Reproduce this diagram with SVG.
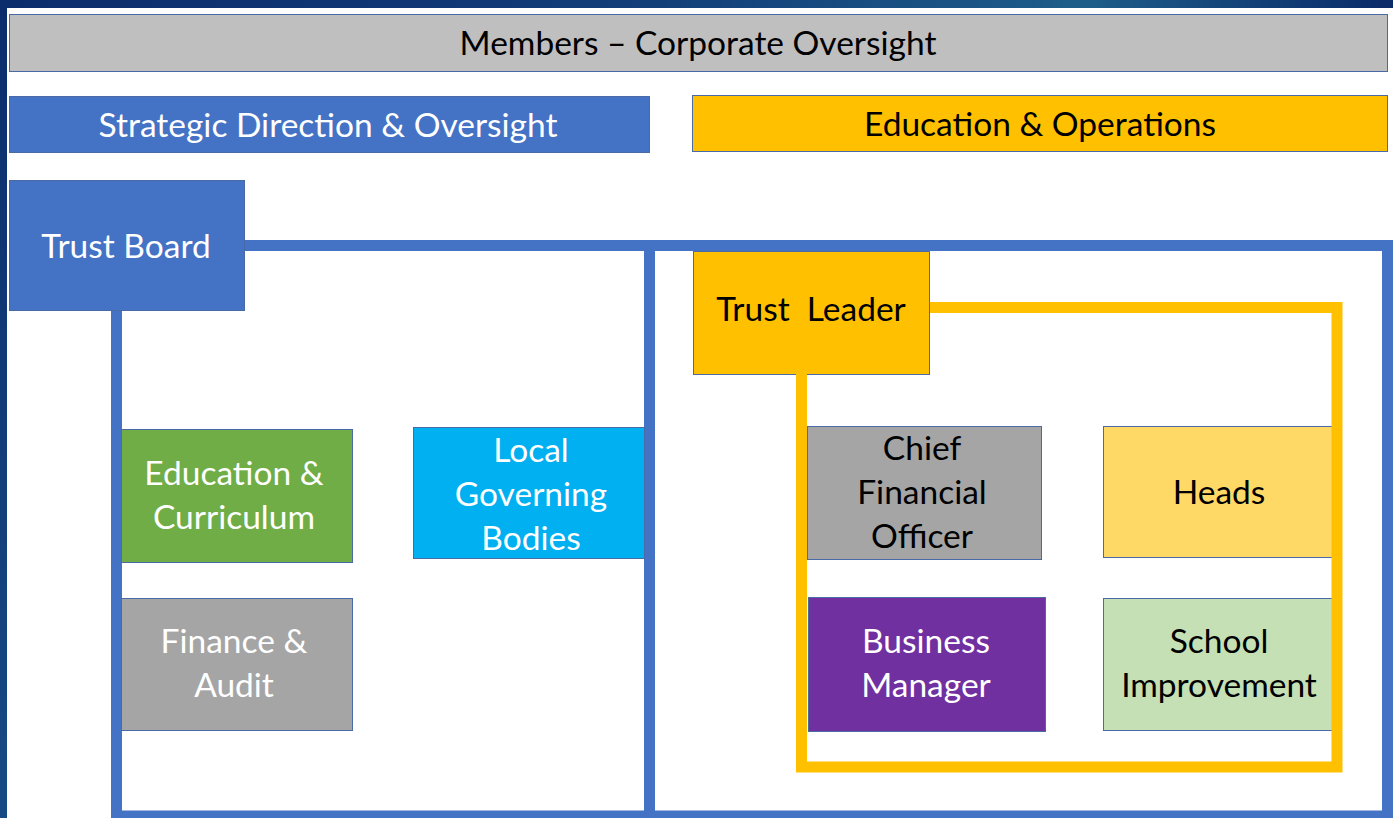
<svg xmlns="http://www.w3.org/2000/svg" width="1393" height="818" viewBox="0 0 1393 818">
<defs>
<linearGradient id="topg" x1="0" y1="0" x2="1" y2="0">
<stop offset="0" stop-color="#0c2d6b"/>
<stop offset="0.45" stop-color="#123d78"/>
<stop offset="0.78" stop-color="#1e5d8a"/>
<stop offset="1" stop-color="#0a2a68"/>
</linearGradient>
<linearGradient id="leftg" x1="0" y1="0" x2="0" y2="1">
<stop offset="0" stop-color="#0b2d6b"/>
<stop offset="1" stop-color="#174a84"/>
</linearGradient>
<style>
.box{stroke:#4a6aa6;stroke-width:1}
.t{font-family:"Lato","Open Sans","DejaVu Sans",sans-serif;font-size:33.5px;text-anchor:middle}
.w{fill:#ffffff}
.k{fill:#000000}
.blue{fill:none;stroke:#4472c4;stroke-width:11;stroke-linejoin:miter;stroke-linecap:butt}
.yel{fill:none;stroke:#ffc000;stroke-width:11;stroke-linejoin:miter;stroke-linecap:butt}
</style>
</defs>
<rect x="0" y="0" width="1393" height="818" fill="url(#leftg)"/>
<rect x="0" y="0" width="1393" height="8" fill="url(#topg)"/>
<rect x="7" y="8" width="1386" height="810" fill="#ffffff"/>

<g id="connectors">
<path class="blue" d="M245 245.5 H1387.5 V816 H116.5 V311"/>
<path class="blue" d="M649.5 245.5 V816"/>
</g>

<g id="members">
<rect class="box" x="9.5" y="14.5" width="1378" height="57" fill="#bfbfbf"/>
<text class="t k" x="698" y="55">Members – Corporate Oversight</text>
</g>
<g id="strategic">
<rect class="box" x="9.5" y="96.5" width="640" height="56" fill="#4472c4"/>
<text class="t w" x="328" y="137">Strategic Direction &amp; Oversight</text>
</g>
<g id="eduops">
<rect class="box" x="692.5" y="95.5" width="695" height="56" fill="#ffc000"/>
<text class="t k" x="1040" y="136">Education &amp; Operations</text>
</g>
<g id="trustboard">
<rect class="box" x="9.5" y="180.5" width="235" height="130" fill="#4472c4"/>
<text class="t w" x="126" y="258">Trust Board</text>
</g>
<g id="educurr">
<rect class="box" x="121.5" y="429.5" width="231" height="133" fill="#70ad47"/>
<text class="t w" x="234" y="485">Education &amp;</text>
<text class="t w" x="234" y="529">Curriculum</text>
</g>
<g id="finaudit">
<rect class="box" x="121.5" y="598.5" width="231" height="132" fill="#a5a5a5"/>
<text class="t w" x="234" y="653">Finance &amp;</text>
<text class="t w" x="234" y="697">Audit</text>
</g>
<g id="lgb">
<rect class="box" x="413.5" y="427.5" width="231" height="131" fill="#00b0f0"/>
<text class="t w" x="531" y="462">Local</text>
<text class="t w" x="531" y="506">Governing</text>
<text class="t w" x="531" y="550">Bodies</text>
</g>
<g id="trustleader">
<rect class="box" x="693.5" y="251.5" width="236" height="123" fill="#ffc000"/>
<text class="t k" x="811" y="321" xml:space="preserve">Trust  Leader</text>
</g>
<g id="cfo">
<rect class="box" x="807.5" y="426.5" width="234" height="133" fill="#a5a5a5"/>
<text class="t k" x="922" y="460">Chief</text>
<text class="t k" x="922" y="504">Financial</text>
<text class="t k" x="922" y="548">Officer</text>
</g>
<g id="heads">
<rect class="box" x="1103.5" y="426.5" width="229" height="131" fill="#ffd966"/>
<text class="t k" x="1219" y="504">Heads</text>
</g>
<g id="bizmgr">
<rect class="box" x="808.5" y="597.5" width="237" height="134" fill="#7030a0"/>
<text class="t w" x="926" y="653">Business</text>
<text class="t w" x="926" y="697">Manager</text>
</g>
<g id="schoolimp">
<rect class="box" x="1103.5" y="598.5" width="229" height="132" fill="#c5e0b4"/>
<text class="t k" x="1219" y="653">School</text>
<text class="t k" x="1219" y="697">Improvement</text>
</g>

<g id="connectors-ops">
<path class="yel" d="M930 307.5 H1337 V767 H801.5 V374"/>
</g>
</svg>
